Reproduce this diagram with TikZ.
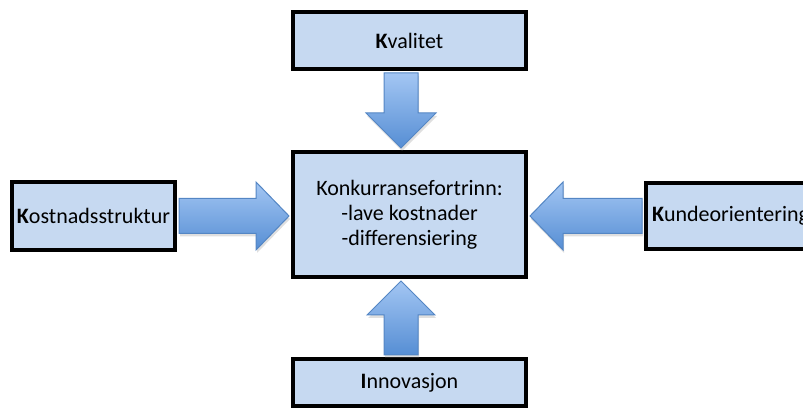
\documentclass[tikz,border=0pt]{standalone}
\usepackage{fontspec}
\setmainfont{Carlito}
\usetikzlibrary{calc,shadows}
\definecolor{boksblaa}{RGB}{198,217,241}
\definecolor{pillys}{RGB}{163,198,243}
\definecolor{pilmork}{RGB}{86,142,212}
\definecolor{pilkant}{RGB}{84,134,196}
\tikzset{
  boks/.style={draw=black, line width=4pt, fill=boksblaa, inner sep=0pt,
    font=\fontsize{22}{25}\selectfont},
  pil/.style={draw=pilkant, line width=1pt, top color=pillys, bottom color=pilmork,
    drop shadow={opacity=0.25, shadow xshift=1pt, shadow yshift=-3pt}}
}
\begin{document}
\begin{tikzpicture}[x=1pt, y=-1pt]
  \useasboundingbox (0,0) rectangle (803,419);
  \clip (0,0) rectangle (803,419);
  % five boxes
  \node[boks, minimum width=233pt, minimum height=57pt] (kval) at (409.5,40.5) {\textbf{K}valitet};
  \node[boks, minimum width=233pt, minimum height=125pt, align=center] (konk) at (409.5,214.5)
    {Konkurransefortrinn:\\-lave kostnader\\-differensiering};
  \node[boks, minimum width=233pt, minimum height=47pt] (innov) at (409.5,382.5) {\textbf{I}nnovasjon};
  \node[boks, minimum width=163pt, minimum height=68pt] (kost) at (93.5,216) {\textbf{K}ostnadsstruktur};
  \node[boks, anchor=west, minimum height=66pt, text width=200pt, inner xsep=6pt, align=left]
    (kunde) at (644,216) {\textbf{K}undeorientering};
  % four block arrows
  \draw[pil] ($(kval.south)+(-25.5,2)$) -- ($(kval.south)+(8.5,2)$) -- ($(konk.north)+(8.5,-37)$)
    -- ($(konk.north)+(26.5,-37)$) -- ($(konk.north)+(-8.5,-2)$) -- ($(konk.north)+(-43.5,-37)$)
    -- ($(konk.north)+(-25.5,-37)$) -- cycle;
  \draw[pil] ($(innov.north)+(-25.5,-2)$) -- ($(konk.south)+(-25.5,36)$) -- ($(konk.south)+(-42.5,36)$)
    -- ($(konk.south)+(-8.5,2)$) -- ($(konk.south)+(25.5,36)$) -- ($(konk.south)+(8.5,36)$)
    -- ($(innov.north)+(8.5,-2)$) -- cycle;
  \draw[pil] ($(kost.east)+(2,-17.5)$) -- ($(konk.west |- kost.east)+(-35,-17.5)$)
    -- ($(konk.west |- kost.east)+(-35,-34)$) -- ($(konk.west |- kost.east)+(-2,0)$)
    -- ($(konk.west |- kost.east)+(-35,34)$) -- ($(konk.west |- kost.east)+(-35,17.5)$)
    -- ($(kost.east)+(2,17.5)$) -- cycle;
  \draw[pil] ($(kunde.west)+(-2,-17.5)$) -- ($(konk.east |- kunde.west)+(35,-17.5)$)
    -- ($(konk.east |- kunde.west)+(35,-34)$) -- ($(konk.east |- kunde.west)+(2,0)$)
    -- ($(konk.east |- kunde.west)+(35,34)$) -- ($(konk.east |- kunde.west)+(35,17.5)$)
    -- ($(kunde.west)+(-2,17.5)$) -- cycle;
\end{tikzpicture}
\end{document}
